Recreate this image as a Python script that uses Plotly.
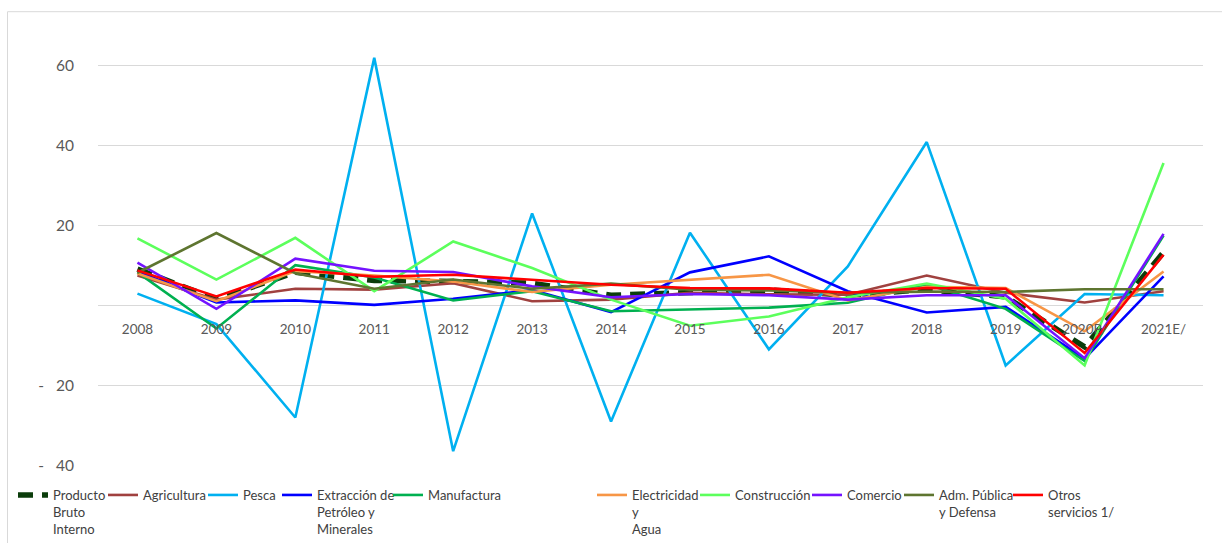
import plotly.graph_objects as go

years = ["2008", "2009", "2010", "2011", "2012", "2013", "2014",
         "2015", "2016", "2017", "2018", "2019", "2020P/", "2021E/"]

pbi = [9.1, 1.6, 8.3, 6.3, 6.0, 5.6, 2.6, 3.2, 3.9, 2.6, 4.0, 2.2, -10.3, 13.3]
agricultura = [7.5, 1.5, 4.2, 4.0, 5.6, 1.1, 1.5, 3.2, 2.8, 2.7, 7.5, 3.2, 0.8, 3.6]
pesca = [3.0, -4.6, -27.9, 61.8, -36.3, 23.0, -28.9, 18.2, -10.9, 9.8, 40.8, -14.9, 2.9, 2.6]
extraccion = [8.5, 0.8, 1.3, 0.2, 1.7, 3.9, -1.6, 8.3, 12.3, 3.6, -1.7, -0.3, -13.2, 7.3]
manufactura = [8.3, -5.7, 10.1, 7.0, 1.3, 3.6, -1.4, -1.0, -0.5, 0.7, 5.3, -0.8, -13.8, 17.5]
electricidad = [8.0, 1.1, 8.6, 7.5, 6.0, 3.4, 5.2, 6.5, 7.7, 1.3, 4.7, 4.4, -6.4, 8.5]
construccion = [16.8, 6.5, 16.9, 3.6, 16.0, 9.4, 1.5, -5.0, -2.7, 2.1, 5.5, 1.7, -14.9, 35.6]
comercio = [10.7, -0.8, 11.7, 8.7, 8.4, 4.8, 2.1, 2.9, 2.6, 1.5, 2.6, 2.6, -13.1, 17.9]
adm_publica = [8.2, 18.1, 8.1, 4.2, 6.5, 4.2, 5.5, 4.0, 3.8, 3.2, 3.5, 3.4, 4.1, 4.1]
otros = [8.8, 2.3, 9.0, 7.2, 7.7, 6.5, 5.2, 4.4, 4.3, 3.2, 4.4, 4.2, -11.8, 12.7]

series_names = ["Producto<br>Bruto<br>Interno", "Agricultura", "Pesca",
                "Extracción de<br>Petróleo y<br>Minerales", "Manufactura",
                "Electricidad<br>y<br>Agua", "Construcción", "Comercio",
                "Adm. Pública<br>y Defensa", "Otros<br>servicios 1/"]
series_values = [pbi, agricultura, pesca, extraccion, manufactura,
                 electricidad, construccion, comercio, adm_publica, otros]
colors = ["#0B3D0B", "#A0413F", "#00B0F0", "#0000FF", "#00B050",
          "#F79646", "#5CFF5C", "#7413FF", "#5E7530", "#FF0000"]
# x pixel where each legend text starts
legend_text_px = [53, 143, 243, 317, 428, 632, 735, 847, 939, 1048]

y_ticks = [-40, -20, 0, 20, 40, 60]
y_ticktext = ["-\u00a0\u00a0\u00a040", "-\u00a0\u00a0\u00a020", "", "20", "40", "60"]

PL, PR, PT, PB = 98, 19, 25, 77
W, H = 1222, 543
pw = W - PL - PR
ph = H - PT - PB
YMIN, YMAX = -40, 70

fig = go.Figure()
layout_legends = {}
for i, (name, vals, col, tpx) in enumerate(zip(series_names, series_values, colors, legend_text_px)):
    lname = "legend" if i == 0 else f"legend{i+1}"
    if i == 0:
        line = dict(color=col, width=5.5, dash="15px,9px")
    else:
        line = dict(color=col, width=2.6)
    fig.add_trace(go.Scatter(x=years, y=vals, mode="lines", name=name,
                             line=line, legend=lname, hoverinfo="x+y+name"))
    left_px = tpx - 40
    layout_legends[lname] = dict(
        x=(left_px - PL) / pw, xanchor="left",
        y=(PT + ph - 480) / ph, yanchor="top",
        orientation="h", valign="top", bgcolor="rgba(0,0,0,0)",
        font=dict(family="Lato, sans-serif", size=13, color="#404040"),
        borderwidth=0, tracegroupgap=0,
    )

fig.update_layout(
    width=W, height=H,
    margin=dict(l=PL, r=PR, t=PT, b=PB, autoexpand=False),
    paper_bgcolor="white", plot_bgcolor="white",
    showlegend=True,
    xaxis=dict(type="category", showgrid=False, zeroline=False, showline=False,
               ticks="", anchor="free", range=[-0.5, len(years) - 0.5],
               position=(0 - YMIN) / (YMAX - YMIN), automargin=False,
               tickfont=dict(family="Lato, sans-serif", size=13.5, color="#595959"),
               ticklabelstandoff=14),
    yaxis=dict(range=[YMIN, YMAX], tickvals=y_ticks, ticktext=y_ticktext,
               showgrid=True, gridcolor="#D9D9D9", gridwidth=1, automargin=False,
               zeroline=False, showline=False, ticks="",
               tickfont=dict(family="Lato, sans-serif", size=15.5, color="#595959"),
               ticklabelstandoff=23),
    shapes=[
        dict(type="line", xref="paper", yref="paper",
             x0=(7.5 - PL) / pw, x1=(7.5 - PL) / pw,
             y0=(PT + ph - 11.7) / ph, y1=(PT + ph - 545) / ph,
             line=dict(color="#D9D9D9", width=1)),
        dict(type="line", xref="paper", yref="paper",
             x0=(7.5 - PL) / pw, x1=(1224 - PL) / pw,
             y0=(PT + ph - 11.7) / ph, y1=(PT + ph - 11.7) / ph,
             line=dict(color="#D9D9D9", width=1)),
    ],
    **layout_legends,
)

fig.write_html("out.html", config={"displayModeBar": False},
               post_script="document.body.style.margin='0';")
